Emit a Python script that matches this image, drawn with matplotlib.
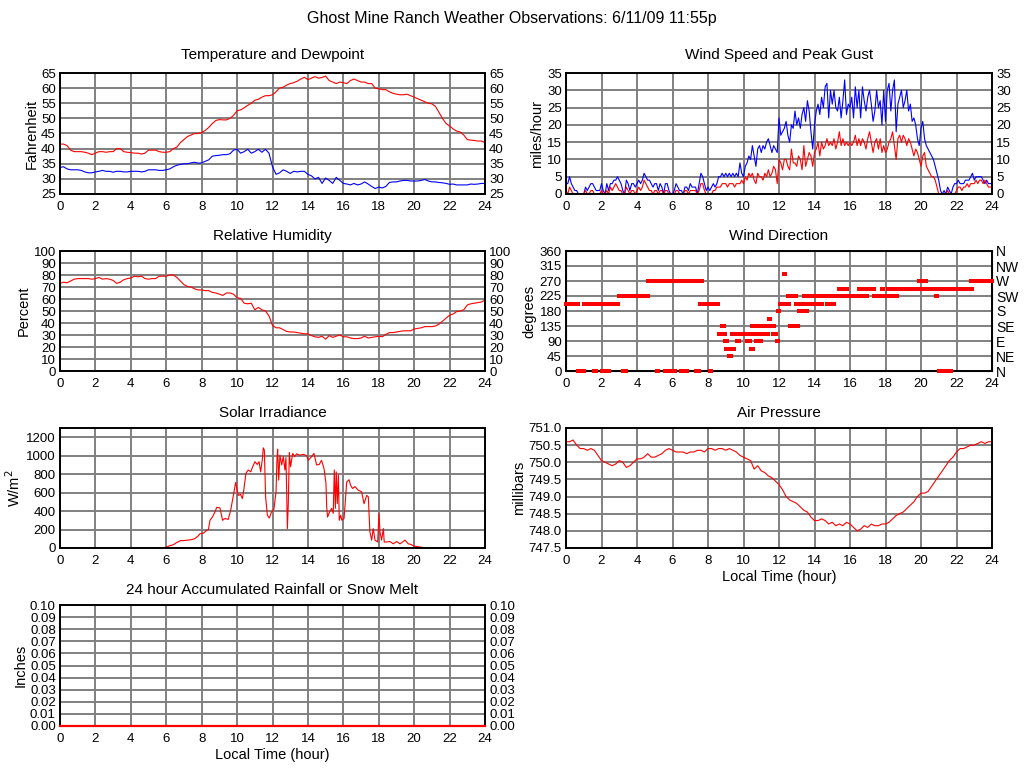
import numpy as np
import matplotlib
matplotlib.use("Agg")
import matplotlib.pyplot as plt

plt.rcParams['font.family'] = ['Liberation Sans', 'DejaVu Sans']

# 12 minute samples for the slow series, 6 minute samples for wind
hours = np.linspace(0, 24, 121)
hours6 = np.linspace(0, 24, 241)

temp_f = [41.5, 41.5, 41, 39.5, 39, 39, 39, 38.8, 38.5, 38,
          38.5, 39, 39, 38.8, 39, 39, 40, 40, 39, 38.8,
          38.7, 38.5, 38.5, 38.2, 38.5, 39.5, 39.5, 39.5, 39, 38.8,
          38.8, 39, 40, 40.5, 42, 43, 44, 44.5, 45, 45,
          45.3, 46, 47, 48.3, 49.3, 49.6, 49.5, 49.5, 50, 51,
          52.5, 52.8, 53.5, 54.3, 55, 56, 56.3, 57, 57.5, 57.5,
          57.8, 58.8, 60, 60.3, 61, 61.5, 61.8, 62.3, 63, 63.6,
          62.8, 63.3, 63.8, 63.3, 63.5, 64, 62.5, 62, 61.5, 62,
          61.8, 61.5, 62.5, 63, 62.5, 62, 62, 61.5, 61.5, 60,
          59.8, 59.5, 59.5, 58.8, 58.3, 58, 57.8, 57.8, 58, 57.5,
          57, 56.5, 56, 55.5, 55, 54.8, 54, 52, 50, 48.3,
          47.5, 46.5, 45.8, 45.5, 44.5, 43, 42.8, 42.7, 42.5, 42.5,
          42]

dew_f = [33.8, 34, 33.3, 33, 33, 33, 32.8, 32.3, 32, 32,
         32.3, 32.5, 32.8, 32.5, 32.5, 32.2, 32.5, 32.5, 32.3, 32.3,
         32.5, 32.5, 32.5, 32.3, 32.5, 33, 33, 33, 32.8, 32.8,
         33, 33.3, 34, 34.5, 34.8, 35, 35, 35.3, 35.5, 35.2,
         35.3, 35.8, 36.3, 37.5, 37.7, 37.8, 38, 38, 38.3, 39.5,
         39.8, 38.5, 39, 39.8, 38.5, 39, 39.8, 38.8, 39.8, 38.5,
         34, 31.5, 32, 33, 32.5, 31.8, 32.5, 32.3, 32.5, 32.5,
         31.5, 31, 30, 30.5, 28.5, 30.3, 29.5, 28.5, 30.5, 29.5,
         28.5, 28.3, 28, 28.5, 28, 28.3, 29, 28.3, 27.5, 26.8,
         27.3, 27, 27.5, 28.8, 29, 29, 29.3, 29.5, 29.5, 29.3,
         29.3, 29.3, 29.5, 29.8, 29.3, 29, 29, 28.8, 28.7, 28.5,
         28.2, 28.3, 28, 28, 28, 28, 28.3, 28.2, 28.3, 28.5,
         28.5]

rel_hum = [73, 74, 73.5, 75, 76.5, 77, 77, 77, 77, 76.5,
           77, 78, 76.5, 77, 76.5, 75.5, 73, 74, 76, 77,
           77.5, 79, 78.5, 79, 77, 76.5, 77, 77, 79, 79,
           79, 80, 80, 78, 75, 72, 70.5, 70, 68.5, 67.5,
           67.5, 67, 67, 65.5, 65, 64, 63, 65, 65, 64,
           61, 60.5, 56.5, 56, 56.5, 51, 53, 51, 50, 46,
           38, 36, 36, 34.5, 33, 32.5, 32.5, 32, 31.5, 31,
           31, 29.5, 28.5, 28, 29, 26.5, 29.5, 28, 29, 30,
           28.5, 28.5, 27.5, 27, 27, 27.5, 29, 27.5, 28, 28.5,
           29, 28.5, 30.5, 32, 32, 32.5, 33, 33.5, 33.5, 33.5,
           35, 35.5, 36, 37, 37, 37, 37.5, 39, 41.5, 44,
           46.5, 47.5, 49.5, 50, 51, 55, 56, 56.5, 57, 57.5,
           59]

pressure = [750.6, 750.6, 750.65, 750.5, 750.4, 750.4, 750.35, 750.4, 750.35, 750.2,
            750.05, 750.0, 749.95, 749.9, 749.95, 750.05, 750.0, 749.85, 749.9, 750.0,
            750.1, 750.1, 750.15, 750.25, 750.15, 750.15, 750.2, 750.25, 750.35, 750.4,
            750.35, 750.3, 750.3, 750.3, 750.25, 750.3, 750.3, 750.35, 750.35, 750.3,
            750.4, 750.4, 750.35, 750.4, 750.4, 750.35, 750.4, 750.35, 750.3, 750.2,
            750.15, 750.1, 750.05, 749.8, 749.9, 749.75, 749.7, 749.6, 749.55, 749.45,
            749.35, 749.2, 749.0, 748.9, 748.85, 748.8, 748.7, 748.6, 748.55, 748.4,
            748.3, 748.3, 748.35, 748.3, 748.2, 748.25, 748.15, 748.2, 748.15, 748.25,
            748.2, 748.1, 748.0, 748.05, 748.15, 748.1, 748.2, 748.15, 748.15, 748.2,
            748.2, 748.25, 748.35, 748.45, 748.5, 748.55, 748.65, 748.75, 748.85, 749.0,
            749.1, 749.1, 749.15, 749.3, 749.45, 749.6, 749.75, 749.9, 750.05, 750.15,
            750.3, 750.4, 750.4, 750.45, 750.5, 750.5, 750.55, 750.6, 750.55, 750.6,
            750.6]

gust_mph = [3, 3, 5, 3, 2, 1, 1, 0, 0, 0,
            0, 2, 1, 2, 3, 3, 2, 1, 1, 1,
            3, 1, 0, 3, 1, 3, 3, 4, 4, 5,
            4, 3, 1, 0, 4, 3, 1, 3, 3, 2,
            3, 4, 3, 4, 6, 5, 4, 4, 3, 2,
            3, 3, 1, 3, 2, 0, 3, 3, 1, 0,
            0, 1, 3, 2, 1, 1, 0, 2, 2, 1,
            3, 2, 2, 2, 0, 3, 6, 5, 3, 1,
            2, 1, 2, 3, 2, 3, 5, 5, 6, 5,
            6, 5, 6, 5, 6, 5, 6, 5, 9, 6,
            5, 8, 9, 11, 10, 14, 11, 8, 13, 14,
            12, 14, 13, 15, 16, 14, 12, 14, 13, 12,
            22, 17, 18, 19, 21, 17, 15, 20, 19, 24,
            20, 22, 19, 23, 25, 21, 27, 24, 18, 13,
            20, 24, 26, 23, 28, 25, 31, 32, 22, 30,
            26, 30, 25, 24, 28, 22, 27, 33, 23, 26,
            25, 28, 22, 31, 25, 30, 22, 31, 27, 24,
            28, 30, 26, 21, 24, 30, 25, 27, 20, 30,
            21, 30, 32, 24, 30, 33, 18, 26, 28, 30,
            25, 27, 30, 24, 26, 21, 22, 20, 16, 14,
            19, 21, 16, 14, 13, 12, 11, 10, 8, 6,
            4, 1, 0, 1, 0, 2, 1, 0, 2, 3,
            3, 4, 3, 3, 3, 4, 4, 4, 5, 6,
            4, 5, 5, 5, 5, 4, 3, 4, 3, 3,
            3]

speed_mph = [1, 0, 2, 1, 0, 0, 0, 0, 0, 0,
             0, 1, 0, 0, 1, 1, 0, 0, 0, 0,
             1, 0, 0, 1, 0, 2, 1, 2, 3, 2,
             1, 1, 0, 0, 2, 1, 0, 1, 1, 0,
             1, 2, 1, 2, 4, 3, 2, 1, 1, 0,
             1, 1, 0, 1, 1, 0, 1, 1, 0, 0,
             0, 0, 1, 1, 0, 0, 0, 1, 1, 0,
             1, 1, 1, 1, 0, 1, 3, 3, 1, 0,
             0, 0, 0, 1, 1, 2, 2, 2, 3, 3,
             3, 2, 3, 3, 3, 2, 3, 3, 3, 4,
             3, 5, 4, 6, 5, 6, 4, 3, 6, 5,
             5, 4, 6, 5, 7, 5, 6, 8, 7, 3,
             10, 9, 7, 10, 10, 8, 7, 13, 9, 9,
             8, 11, 10, 7, 14, 8, 10, 12, 11, 8,
             12, 13, 15, 11, 15, 13, 14, 16, 14, 15,
             14, 16, 13, 15, 18, 14, 16, 14, 15, 14,
             15, 14, 15, 17, 14, 16, 14, 16, 15, 13,
             16, 18, 15, 12, 15, 16, 13, 16, 12, 14,
             12, 13, 15, 16, 18, 14, 10, 16, 17, 15,
             17, 16, 14, 16, 15, 13, 11, 13, 12, 10,
             8, 11, 12, 8, 7, 6, 5, 5, 4, 2,
             0, 0, 0, 0, 0, 1, 0, 0, 0, 0,
             1, 2, 2, 1, 2, 2, 3, 2, 3, 3,
             3, 4, 3, 4, 4, 3, 4, 3, 2, 2,
             2]

# wind direction: runs of 5 minute readings (start hour, end hour, degrees)
dir_start = [0.00, 0.70, 1.00, 1.60, 1.75, 2.00, 2.20, 2.35, 3.00, 3.20,
             3.35, 4.60, 5.10, 5.20, 5.60, 5.80, 6.10, 6.50, 6.60, 6.80,
             7.35, 7.50, 7.55, 8.10, 8.15, 8.63, 8.80, 8.97, 9.02, 9.19,
             9.36, 9.64, 10.19, 10.32, 10.43, 10.50, 10.62, 10.71, 10.79, 10.94,
             11.03, 11.26, 11.43, 11.56, 11.69, 11.86, 11.92, 12.03, 12.28, 12.39,
             12.52, 12.60, 12.96, 13.00, 13.12, 13.29, 13.40, 13.44, 13.52, 13.63,
             13.69, 13.80, 13.97, 14.12, 14.34, 14.72, 15.04, 15.36, 15.54, 15.69,
             15.88, 16.49, 16.79, 16.96, 17.33, 17.79, 18.12, 18.50, 18.62, 19.90,
             20.13, 20.28, 20.83, 21.03, 21.53, 22.82]
dir_end = [0.70, 1.10, 1.65, 1.75, 2.10, 2.25, 3.00, 2.50, 3.25, 3.40,
           4.65, 5.15, 5.25, 5.95, 5.75, 6.15, 6.55, 6.90, 6.70, 7.40,
           7.55, 7.70, 8.10, 8.25, 8.60, 8.97, 8.93, 9.10, 9.44, 9.34,
           10.28, 9.79, 10.40, 10.50, 10.55, 10.66, 10.75, 11.03, 10.94, 11.40,
           11.18, 11.40, 11.58, 11.79, 11.94, 12.00, 12.08, 12.35, 12.43, 12.62,
           12.99, 12.77, 13.12, 13.15, 13.37, 13.37, 13.52, 13.52, 13.67, 13.71,
           15.43, 13.88, 14.05, 14.23, 14.50, 14.85, 15.15, 15.60, 15.77, 15.94,
           16.62, 16.85, 17.00, 17.40, 18.40, 17.95, 18.53, 18.75, 20.22, 20.07,
           20.37, 22.89, 20.95, 21.40, 21.71, 24.00]
dir_deg = [202.5, 0, 202.5, 0, 202.5, 0, 202.5, 0, 225, 0,
           225, 270, 0, 270, 0, 0, 270, 0, 270, 270,
           0, 270, 202.5, 0, 202.5, 112.5, 135, 90, 67.5, 45,
           112.5, 90, 90, 112.5, 67.5, 135, 112.5, 90, 135, 112.5,
           135, 135, 157.5, 135, 112.5, 90, 180, 202.5, 292.5, 202.5,
           225, 135, 202.5, 135, 180, 202.5, 225, 202.5, 180, 202.5,
           225, 202.5, 202.5, 202.5, 202.5, 202.5, 202.5, 247.5, 225, 247.5,
           225, 247.5, 225, 247.5, 225, 247.5, 247.5, 225, 247.5, 270,
           270, 247.5, 225, 0, 0, 270]

solar_hr = [0, 5.8, 6.0, 6.2, 6.4, 6.6, 6.8, 7.0, 7.2, 7.4, 7.6, 7.8,
            7.91, 8.09, 8.28, 8.38, 8.47, 8.62, 8.75, 8.85, 9.03, 9.18,
            9.32, 9.50, 9.64, 9.79, 9.92, 10.07, 10.20, 10.30, 10.39, 10.50,
            10.63, 10.77, 10.88, 11.01, 11.14, 11.24, 11.33, 11.42, 11.48, 11.54,
            11.61, 11.71, 11.82, 11.93, 12.08, 12.20, 12.25, 12.29, 12.35, 12.42,
            12.52, 12.61, 12.70, 12.76, 12.84, 12.89, 12.95, 13.02, 13.14, 13.25,
            13.36, 13.55, 13.74, 13.93, 14.02, 14.21, 14.34, 14.49, 14.64, 14.77,
            14.91, 15.02, 15.06, 15.11, 15.21, 15.34, 15.43, 15.49, 15.55, 15.60,
            15.66, 15.72, 15.77, 15.85, 15.92, 16.04, 16.11, 16.19, 16.32, 16.41,
            16.52, 16.66, 16.85, 17.03, 17.17, 17.32, 17.41, 17.50, 17.60, 17.69,
            17.79, 17.94, 18.01, 18.07, 18.16, 18.26, 18.31, 18.45, 18.63, 18.82,
            19.01, 19.20, 19.48, 19.67, 19.80, 20.00, 20.20, 20.50, 20.60, 24]
solar_wm2 = [0, 0, 10, 25, 35, 60, 80, 80, 85, 90, 100, 130,
             155, 160, 190, 200, 300, 340, 390, 440, 435, 300,
             320, 310, 410, 570, 710, 570, 580, 535, 645, 810,
             845, 825, 880, 935, 905, 935, 825, 950, 1085, 1060,
             555, 355, 325, 385, 420, 610, 950, 1070, 735, 1005,
             900, 990, 845, 980, 210, 465, 1035, 880, 1025, 990,
             1020, 1005, 1015, 1000, 950, 990, 1025, 900, 905, 950,
             860, 700, 445, 335, 385, 430, 375, 845, 430, 825,
             480, 790, 300, 355, 300, 320, 500, 715, 740, 680,
             645, 665, 625, 610, 480, 570, 555, 175, 85, 210,
             85, 65, 375, 175, 85, 210, 65, 65, 70, 45,
             70, 45, 85, 45, 40, 20, 15, 5, 0, 0]

rain_hr = [0, 24]
rain_in = [0.0, 0.0]

RED = "#ff0000"
BLUE = "#0000ff"


def rect(left, top, w, h):
    return [left / 1024, 1 - (top + h) / 768, w / 1024, h / 768]


def style(ax, ylim, yticks, right=True, fmt=None):
    ax.set_xlim(0, 24)
    ax.set_xticks(range(0, 25, 2))
    ax.set_ylim(*ylim)
    ax.set_yticks(yticks)
    if fmt:
        ax.set_yticklabels([fmt % v for v in yticks])
    ax.grid(True, color="#808080", lw=1.4)
    ax.set_axisbelow(True)
    ax.tick_params(length=0, labelsize=9.5, labelright=right)
    ax.tick_params(axis="y", pad=3)
    ax.tick_params(axis="x", pad=5)
    for s in ax.spines.values():
        s.set_linewidth(1.4)


fig = plt.figure(figsize=(10.24, 7.68), dpi=100)
fig.text(0.5, 1 - 18 / 768, "Ghost Mine Ranch Weather Observations: 6/11/09 11:55p",
         ha="center", va="center", fontsize=11.5)

# temperature
ax = fig.add_axes(rect(60, 73, 425, 121))
ax.plot(hours, temp_f, color=RED, lw=0.8)
ax.plot(hours, dew_f, color=BLUE, lw=0.8)
style(ax, (25, 65), range(25, 66, 5))
ax.set_title("Temperature and Dewpoint", fontsize=11, pad=10)
ax.set_ylabel("Fahrenheit", fontsize=10.5, labelpad=2)

# wind speed
ax = fig.add_axes(rect(566, 73, 426, 121))
ax.plot(hours6, gust_mph, color=BLUE, lw=0.8)
ax.plot(hours6, speed_mph, color=RED, lw=0.8)
style(ax, (0, 35), range(0, 36, 5))
ax.set_title("Wind Speed and Peak Gust", fontsize=11, pad=10)
ax.set_ylabel("miles/hour", fontsize=10.5, labelpad=2)

# humidity
ax = fig.add_axes(rect(60, 251, 425, 120))
ax.plot(hours, rel_hum, color=RED, lw=0.8)
style(ax, (0, 100), range(0, 101, 10))
ax.set_title("Relative Humidity", fontsize=11, pad=8)
ax.set_ylabel("Percent", fontsize=10.5, labelpad=2)

# wind direction
ax = fig.add_axes(rect(566, 251, 426, 120))
for s, e, d in zip(dir_start, dir_end, dir_deg):
    t = np.arange(s, e, 1 / 12)
    ax.plot(t, np.full(len(t), d), ls="none", marker="s", ms=2.3, mew=0,
            color=RED, clip_on=False, zorder=4)
style(ax, (0, 360), range(0, 361, 45), right=False)
ax.set_title("Wind Direction", fontsize=11, pad=8)
ax.set_ylabel("degrees", fontsize=10.5, labelpad=2)
tw = ax.twinx()
tw.set_ylim(0, 360)
tw.set_yticks(range(0, 361, 45))
tw.set_yticklabels(["N", "NE", "E", "SE", "S", "SW", "W", "NW", "N"])
tw.tick_params(length=0, labelsize=10, pad=3)
tw.set_zorder(ax.get_zorder() - 1)
ax.patch.set_visible(False)

# solar
ax = fig.add_axes(rect(60, 428, 425, 120))
ax.plot(solar_hr, solar_wm2, color=RED, lw=0.8)
style(ax, (0, 1300), range(0, 1201, 200), right=False)
ax.set_title("Solar Irradiance", fontsize=11, pad=8)
ax.set_ylabel("W/m$^2$", fontsize=10.5, labelpad=2)

# pressure
ax = fig.add_axes(rect(566, 428, 426, 120))
ax.plot(hours, pressure, color=RED, lw=0.8)
style(ax, (747.5, 751.0), np.arange(747.5, 751.01, 0.5), right=False, fmt="%.1f")
ax.set_title("Air Pressure", fontsize=11, pad=8)
ax.set_ylabel("millibars", fontsize=10.5, labelpad=2)
ax.set_xlabel("Local Time (hour)", fontsize=10.5, labelpad=2)

# rain
ax = fig.add_axes(rect(60, 605, 425, 121))
ax.plot(rain_hr, rain_in, color=RED, lw=1.6, clip_on=False, zorder=4)
style(ax, (0, 0.1), np.arange(0, 0.1001, 0.01), fmt="%.2f")
ax.set_title("24 hour Accumulated Rainfall or Snow Melt", fontsize=11, pad=8)
ax.set_ylabel("Inches", fontsize=10.5, labelpad=2)
ax.set_xlabel("Local Time (hour)", fontsize=10.5, labelpad=2)

fig.savefig("out.png", dpi=100)
